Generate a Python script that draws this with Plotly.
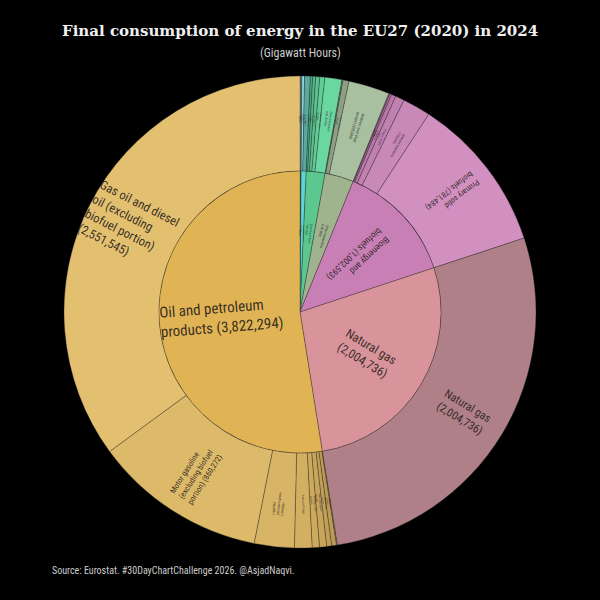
import math
import textwrap
import plotly.graph_objects as go

# ---------------- data ----------------
group_labels = [
    "Oil and petroleum products",
    "Natural gas",
    "Bioenergy and biofuels",
    "Other renewables",
    "Solid fossil fuels",
    "Non-renewable waste",
    "Peat and peat products",
]

item_labels = [
    "Gas oil and diesel oil (excluding biofuel portion)",
    "Motor gasoline (excluding biofuel portion)",
    "Liquefied petroleum gases",
    "Fuel oil",
    "Petroleum coke",
    "Other oil products",
    "Other kerosene",
    "Refinery gas",
    "Naphtha",
    "Natural gas",
    "Primary solid biofuels",
    "Blended biodiesels",
    "Biogases",
    "Blended biogasoline",
    "Renewable municipal waste",
    "Pure biodiesels",
    "Ambient heat (heat pumps)",
    "Solar thermal",
    "Geothermal",
    "Other bituminous coal",
    "Coke oven coke",
    "Lignite",
    "Brown coal briquettes",
    "Anthracite",
    "Industrial waste (non-renewable)",
    "Non-renewable municipal waste",
    "Peat and peat products",
]

item_parents = (
    ["Oil and petroleum products"] * 9
    + ["Natural gas"]
    + ["Bioenergy and biofuels"] * 6
    + ["Other renewables"] * 3
    + ["Solid fossil fuels"] * 5
    + ["Non-renewable waste"] * 2
    + ["Peat and peat products"]
)

item_values = [
    2551545, 860272, 199000, 87500, 36000, 35500, 24500, 24000, 3977,
    2004736,
    781484, 140000, 45000, 22000, 9000, 5109,
    205000, 30000, 5000,
    85000, 25000, 20000, 15000, 11000,
    29000, 13000,
    9500,
]

group_values = [sum(v for v, p in zip(item_values, item_parents) if p == g) for g in group_labels]

# ---------------- styles ----------------
group_colors = ["#E0B455", "#D8949A", "#C87FB6", "#9FB38F", "#5CC88F", "#5CD6CE", "#3C6C8C"]
item_colors = [
    "#E3C070", "#DDBA6A", "#D8B466", "#D3AF62", "#CDAA5E", "#C8A55B", "#C2A058", "#BC9B55", "#B69652",
    "#B08088",
    "#D290C0", "#C888B8", "#C080B0", "#B878A8", "#B070A0", "#A86898",
    "#A8BFA0", "#8CA084", "#7A9070",
    "#6AD6A0", "#62CC98", "#5AC290", "#52B888", "#4AAE80",
    "#5AA8A0", "#8ADCD8",
    "#607890",
]
group_font = [15, 12.5, 9, 3.5, 3, 2, 1]
item_font = [
    12.5, 8, 3.5, 3, 2.5, 2.5, 2, 2, 1,
    11.5,
    8, 3.5, 2.5, 2, 1.5, 1,
    4, 2.5, 1,
    3, 2.5, 2, 1.5, 1.5,
    2, 1.5,
    1,
]

cx, cy, R, r = 300, 312, 236, 141
W = H = 600
TXT = "Liberation Sans Narrow, Roboto Condensed, Roboto, sans-serif"
INK = "rgba(40,34,28,0.92)"


def fmt(label, value, width):
    return "<br>".join(textwrap.wrap(f"{label} ({value:,})", width=width))


def rev(a):
    return list(a)[::-1]


def radial_labels(labels, values, sizes, rmid, width):
    """Annotations at the mid-angle of each slice (slices read counter-clockwise from 12 o'clock)."""
    total = sum(values)
    out = []
    cum = 0.0
    for lab, val, fs in zip(labels, values, sizes):
        theta = 360.0 - (cum + val / 2.0) * 360.0 / total  # bearing, clockwise from north
        cum += val
        rot = theta + 90.0
        if 90.0 < theta < 180.0:
            rot -= 180.0
        rot = (rot + 180.0) % 360.0 - 180.0
        px = cx + rmid * math.sin(math.radians(theta))
        py = cy - rmid * math.cos(math.radians(theta))
        out.append(dict(
            text=fmt(lab, val, width), x=px / W, y=1 - py / H, xref="paper", yref="paper",
            showarrow=False, textangle=rot, xanchor="center", yanchor="middle", align="left",
            font=dict(family=TXT, size=fs, color=INK),
        ))
    return out


# slices are laid clockwise from 12 o'clock in reversed order, so the largest
# category ends at 12 o'clock and the order reads counter-clockwise from the top
fig = go.Figure()
fig.add_trace(go.Pie(
    labels=rev(item_labels), values=rev(item_values), textinfo="none",
    sort=False, direction="clockwise", rotation=0, hole=r / R,
    marker=dict(colors=rev(item_colors), line=dict(color="rgba(40,40,40,0.55)", width=0.6)),
    domain=dict(x=[(cx - R) / W, (cx + R) / W], y=[1 - (cy + R) / H, 1 - (cy - R) / H]),
    showlegend=False, hoverinfo="label+value",
))
fig.add_trace(go.Pie(
    labels=rev(group_labels), values=rev(group_values), textinfo="none",
    sort=False, direction="clockwise", rotation=0,
    marker=dict(colors=rev(group_colors), line=dict(color="rgba(40,40,40,0.55)", width=0.6)),
    domain=dict(x=[(cx - r) / W, (cx + r) / W], y=[1 - (cy + r) / H, 1 - (cy - r) / H]),
    showlegend=False, hoverinfo="label+value",
))

annotations = []
annotations += radial_labels(group_labels, group_values, group_font, 0.56 * r, 20)
annotations += radial_labels(item_labels, item_values, item_font, (r + R) / 2 + 4, 18)
annotations += [
    dict(text="<b>Final consumption of energy in the EU27 (2020) in 2024</b>",
         x=0.5, y=1 - 31 / H, xref="paper", yref="paper", showarrow=False,
         font=dict(family="DejaVu Serif", size=15, color="#F0F0F0"), xanchor="center", yanchor="middle"),
    dict(text="(Gigawatt Hours)", x=0.5, y=1 - 53 / H, xref="paper", yref="paper", showarrow=False,
         font=dict(family=TXT, size=12, color="#CCCCCC"), xanchor="center", yanchor="middle"),
    dict(text="Source: Eurostat. #30DayChartChallenge 2026. @AsjadNaqvi.", x=50 / W, y=1 - 570 / H,
         xref="paper", yref="paper", showarrow=False,
         font=dict(family=TXT, size=10, color="#CCCCCC"), xanchor="left", yanchor="middle"),
]

fig.update_layout(
    width=W, height=H, margin=dict(l=0, r=0, t=0, b=0),
    paper_bgcolor="black", plot_bgcolor="black",
    annotations=annotations,
)

fig.write_html("out.html")
